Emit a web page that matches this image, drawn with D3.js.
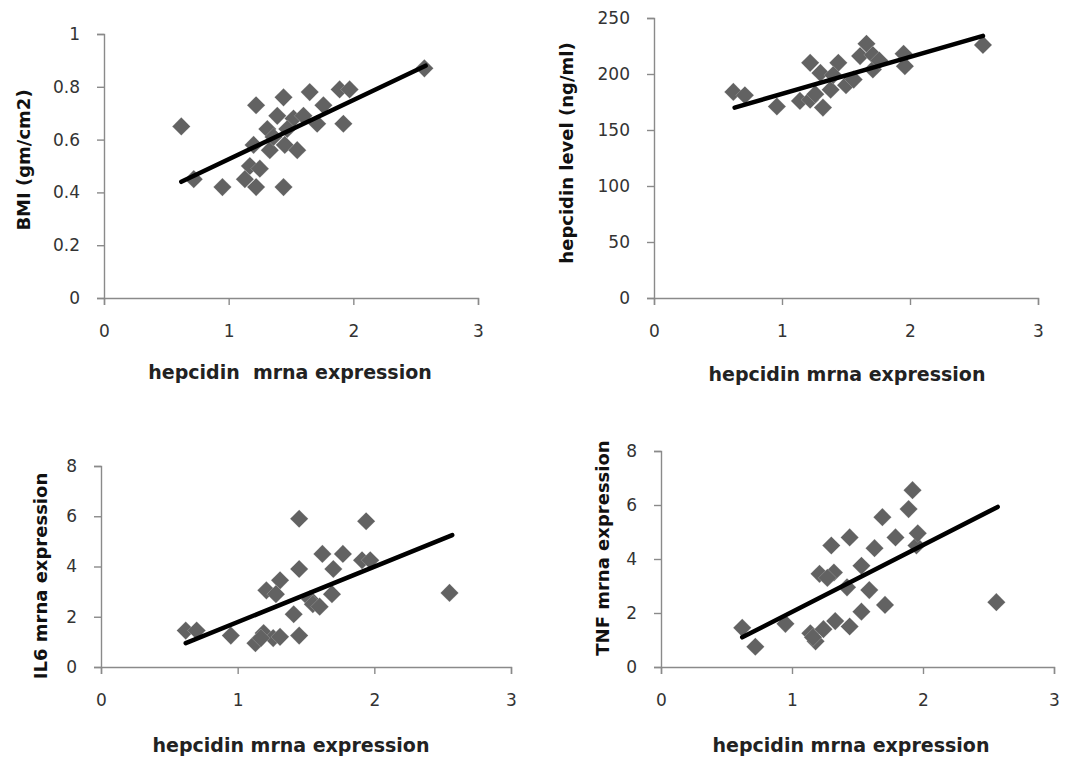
<!DOCTYPE html>
<html>
<head>
<meta charset="utf-8">
<script src="https://cdn.jsdelivr.net/npm/d3@7"></script>
<style>
  html, body { margin: 0; padding: 0; background: #fff; }
  svg text { font-family: "DejaVu Sans", Verdana, sans-serif; }
</style>
</head>
<body>
<svg id="chart" width="1065" height="761"></svg>
<script>
// ---- Data ----
const xTicks = [0, 1, 2, 3];

const bmiX = [0.62, 0.72, 0.95, 1.13, 1.17, 1.20, 1.22, 1.22, 1.25, 1.31, 1.33, 1.39, 1.44, 1.44, 1.45, 1.52, 1.55, 1.60, 1.65, 1.71, 1.76, 1.89, 1.92, 1.97, 2.57, 1.36, 1.47];
const bmiY = [0.65, 0.45, 0.42, 0.45, 0.50, 0.58, 0.73, 0.42, 0.49, 0.64, 0.56, 0.69, 0.76, 0.42, 0.58, 0.68, 0.56, 0.69, 0.78, 0.66, 0.73, 0.79, 0.66, 0.79, 0.87, 0.61, 0.64];
const bmiTicks = [0, 0.2, 0.4, 0.6, 0.8, 1];
const bmiTrend = [[0.62, 0.44], [2.58, 0.88]];

const levelX = [0.62, 0.71, 0.96, 1.14, 1.22, 1.22, 1.30, 1.32, 1.38, 1.44, 1.50, 1.56, 1.61, 1.66, 1.71, 1.71, 1.76, 1.95, 1.96, 2.57, 1.26, 1.40];
const levelY = [184, 181, 171, 176, 210, 177, 201, 170, 186, 210, 190, 195, 216, 227, 217, 204, 212, 218, 207, 226, 182, 199];
const levelTicks = [0, 50, 100, 150, 200, 250];
const levelTrend = [[0.63, 170], [2.57, 234]];

const il6X = [0.62, 0.70, 0.95, 1.13, 1.19, 1.21, 1.26, 1.31, 1.31, 1.41, 1.45, 1.45, 1.45, 1.53, 1.55, 1.60, 1.62, 1.69, 1.70, 1.77, 1.91, 1.94, 1.97, 2.55, 1.17, 1.28];
const il6Y = [1.45, 1.45, 1.25, 0.95, 1.35, 3.05, 1.15, 1.2, 3.45, 2.1, 1.25, 3.9, 5.9, 2.7, 2.5, 2.4, 4.5, 2.9, 3.9, 4.5, 4.25, 5.8, 4.25, 2.95, 1.15, 2.9];
const il6Ticks = [0, 2, 4, 6, 8];
const il6Trend = [[0.62, 0.95], [2.57, 5.25]];

const tnfX = [0.62, 0.72, 0.95, 1.14, 1.18, 1.21, 1.24, 1.30, 1.32, 1.33, 1.42, 1.44, 1.44, 1.53, 1.53, 1.59, 1.63, 1.69, 1.71, 1.79, 1.89, 1.92, 1.95, 1.96, 2.56, 1.16, 1.27];
const tnfY = [1.45, 0.75, 1.6, 1.25, 0.95, 3.45, 1.4, 4.5, 3.5, 1.7, 2.95, 4.8, 1.5, 2.05, 3.75, 2.85, 4.4, 5.55, 2.3, 4.8, 5.85, 6.55, 4.5, 4.95, 2.4, 1.1, 3.3];
const tnfTicks = [0, 2, 4, 6, 8];
const tnfTrend = [[0.62, 1.1], [2.57, 5.93]];

const xTitle1 = "hepcidin  mrna expression";
const xTitle = "hepcidin mrna expression";

// ---- Layout ----
const panels = [
  { xs: bmiX, ys: bmiY, ticks: bmiTicks, ymax: 1, trend: bmiTrend,
    xr: [104, 478], yr: [298, 34], ytitle: "BMI (gm/cm2)", xtitle: xTitle1, ytx: 24, yty: 160, xty: 372, xtx: 290 },
  { xs: levelX, ys: levelY, ticks: levelTicks, ymax: 250, trend: levelTrend,
    xr: [654, 1038], yr: [298, 18], ytitle: "hepcidin level (ng/ml)", xtitle: xTitle, ytx: 567, yty: 153, xty: 374, xtx: 847 },
  { xs: il6X, ys: il6Y, ticks: il6Ticks, ymax: 8, trend: il6Trend,
    xr: [101, 511], yr: [667, 466], ytitle: "IL6 mrna expression", xtitle: xTitle, ytx: 41, yty: 576, xty: 745, xtx: 291 },
  { xs: tnfX, ys: tnfY, ticks: tnfTicks, ymax: 8, trend: tnfTrend,
    xr: [661, 1054], yr: [667, 451], ytitle: "TNF mrna expression", xtitle: xTitle, ytx: 603, yty: 548, xty: 745, xtx: 851 }
];

const svg = d3.select("#chart");
const axisColor = "#8a8a8a";
const markColor = "#626262";

panels.forEach(p => {
  const x = d3.scaleLinear().domain([0, 3]).range(p.xr);
  const y = d3.scaleLinear().domain([0, p.ymax]).range(p.yr);
  const g = svg.append("g");

  const ya = g.append("g").attr("transform", `translate(${p.xr[0]},0)`)
    .call(d3.axisLeft(y).tickValues(p.ticks).tickFormat(d => String(d)).tickSize(7).tickPadding(17));
  const xa = g.append("g").attr("transform", `translate(0,${p.yr[0]})`)
    .call(d3.axisBottom(x).tickValues(xTicks).tickFormat(d3.format("d")).tickSize(7).tickPadding(20));

  [ya, xa].forEach(a => {
    a.select(".domain").attr("stroke", axisColor).attr("stroke-width", 1.4);
    a.selectAll(".tick line").attr("stroke", axisColor).attr("stroke-width", 1.4);
    a.selectAll(".tick text").attr("fill", "#333").style("font-size", "17px");
  });

  // points
  const pts = p.xs.map((v, i) => [v, p.ys[i]]);
  g.append("g").selectAll("path").data(pts).join("path")
    .attr("d", d3.symbol().type(d3.symbolSquare).size(165))
    .attr("transform", d => `translate(${x(d[0])},${y(d[1])}) rotate(45)`)
    .attr("fill", markColor)
    .attr("stroke", "#ffffff").attr("stroke-opacity", 0.3).attr("stroke-width", 0.6);

  // trendline
  g.append("path")
    .datum(p.trend)
    .attr("d", d3.line().x(d => x(d[0])).y(d => y(d[1])))
    .attr("stroke", "#000").attr("stroke-width", 4.5).attr("stroke-linecap", "round").attr("fill", "none");

  // titles
  g.append("text")
    .attr("x", p.xtx)
    .attr("y", p.xty)
    .attr("dy", "0.35em")
    .attr("text-anchor", "middle")
    .style("font-size", "19px").style("font-weight", "bold").style("white-space", "pre")
    .attr("fill", "#222")
    .text(p.xtitle);

  g.append("text")
    .attr("transform", `translate(${p.ytx},${p.yty}) rotate(-90)`)
    .attr("text-anchor", "middle")
    .attr("dy", "0.35em")
    .style("font-size", "18px").style("font-weight", "bold")
    .attr("fill", "#111")
    .text(p.ytitle);
});
</script>
</body>
</html>
